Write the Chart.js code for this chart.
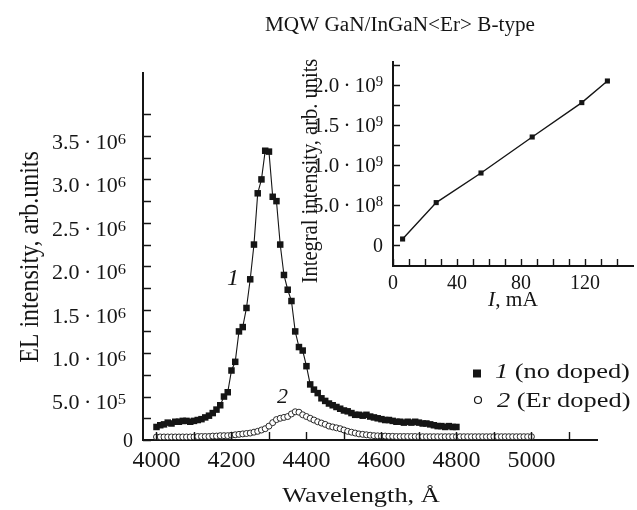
<!DOCTYPE html>
<html>
<head>
  <script src="https://cdn.jsdelivr.net/npm/chart.js"></script>
  <style>
    body { margin: 0; background: #fff; }
    #wrap { position: relative; width: 637px; height: 510px; }
    #wrap canvas { position: absolute; left: 0; top: 0; }
  </style>
</head>
<body>
  <div id="wrap">
    <canvas id="mainChart" width="637" height="510"></canvas>
    <canvas id="insetChart" width="637" height="510"></canvas>
  </div>

  <script>
    // EL spectra, wavelength in Angstrom, intensity in units of 1e6
    var wl1 = [4000, 4010, 4020, 4030, 4040, 4050, 4060, 4070, 4080, 4090,
               4100, 4110, 4120, 4130, 4140, 4150, 4160, 4170, 4180, 4190,
               4200, 4210, 4220, 4230, 4240, 4250, 4260, 4270, 4280, 4290,
               4300, 4310, 4320, 4330, 4340, 4350, 4360, 4370, 4380, 4390,
               4400, 4410, 4420, 4430, 4440, 4450, 4460, 4470, 4480, 4490,
               4500, 4510, 4520, 4530, 4540, 4550, 4560, 4570, 4580, 4590,
               4600, 4610, 4620, 4630, 4640, 4650, 4660, 4670, 4680, 4690,
               4700, 4710, 4720, 4730, 4740, 4750, 4760, 4770, 4780, 4790,
               4800];
    var noDoped = [0.15, 0.17, 0.18, 0.20, 0.19, 0.21, 0.21, 0.22, 0.22, 0.21,
                   0.22, 0.23, 0.24, 0.26, 0.28, 0.31, 0.35, 0.40, 0.50, 0.55,
                   0.80, 0.90, 1.25, 1.30, 1.52, 1.85, 2.25, 2.84, 3.00, 3.33,
                   3.32, 2.80, 2.75, 2.25, 1.90, 1.73, 1.60, 1.25, 1.07, 1.03,
                   0.85, 0.64, 0.58, 0.54, 0.48, 0.45, 0.42, 0.40, 0.38, 0.36,
                   0.34, 0.33, 0.31, 0.29, 0.29, 0.28, 0.29, 0.27, 0.26, 0.25,
                   0.24, 0.23, 0.23, 0.22, 0.21, 0.21, 0.20, 0.21, 0.20, 0.21,
                   0.20, 0.19, 0.19, 0.18, 0.17, 0.16, 0.16, 0.15, 0.16, 0.15,
                   0.15];

    var wl2 = [4000, 4010, 4020, 4030, 4040, 4050, 4060, 4070, 4080, 4090,
               4100, 4110, 4120, 4130, 4140, 4150, 4160, 4170, 4180, 4190,
               4200, 4210, 4220, 4230, 4240, 4250, 4260, 4270, 4280, 4290,
               4300, 4310, 4320, 4330, 4340, 4350, 4360, 4370, 4380, 4390,
               4400, 4410, 4420, 4430, 4440, 4450, 4460, 4470, 4480, 4490,
               4500, 4510, 4520, 4530, 4540, 4550, 4560, 4570, 4580, 4590,
               4600, 4610, 4620, 4630, 4640, 4650, 4660, 4670, 4680, 4690,
               4700, 4710, 4720, 4730, 4740, 4750, 4760, 4770, 4780, 4790,
               4800, 4810, 4820, 4830, 4840, 4850, 4860, 4870, 4880, 4890,
               4900, 4910, 4920, 4930, 4940, 4950, 4960, 4970, 4980, 4990,
               5000];
    var erDoped = [0.035, 0.035, 0.035, 0.035, 0.035, 0.035, 0.035, 0.035, 0.035, 0.035,
                   0.035, 0.04, 0.04, 0.04, 0.04, 0.045, 0.045, 0.05, 0.05, 0.05,
                   0.055, 0.06, 0.065, 0.07, 0.075, 0.08, 0.09, 0.10, 0.115, 0.13,
                   0.16, 0.20, 0.235, 0.25, 0.26, 0.27, 0.30, 0.325, 0.32, 0.29,
                   0.27, 0.25, 0.23, 0.21, 0.195, 0.18, 0.16, 0.15, 0.14, 0.13,
                   0.115, 0.10, 0.09, 0.08, 0.07, 0.065, 0.06, 0.055, 0.05, 0.048,
                   0.045, 0.045, 0.042, 0.042, 0.04, 0.04, 0.04, 0.04, 0.04, 0.04,
                   0.038, 0.038, 0.038, 0.038, 0.038, 0.038, 0.038, 0.038, 0.038, 0.038,
                   0.038, 0.038, 0.038, 0.038, 0.038, 0.038, 0.038, 0.038, 0.038, 0.038,
                   0.038, 0.038, 0.038, 0.038, 0.038, 0.038, 0.038, 0.038, 0.038, 0.038,
                   0.038];

    // inset: integral intensity (units of 1e9) vs current, mA
    var current = [6, 27, 55, 87, 118, 134];
    var integral = [0.075, 0.53, 0.90, 1.35, 1.78, 2.05];

    // ticks
    var mainXTicks = [4000, 4100, 4200, 4300, 4400, 4500, 4600, 4700, 4800, 4900, 5000, 5100];
    var mainXLabels = [4000, 4200, 4400, 4600, 4800, 5000];
    var mainYTicks = [0, 0.25, 0.5, 0.75, 1, 1.25, 1.5, 1.75, 2, 2.25, 2.5, 2.75, 3, 3.25, 3.5, 3.75];
    var mainYLabels = [0, 0.5, 1, 1.5, 2, 2.5, 3, 3.5];
    var insetXTicks = [0, 10, 20, 30, 40, 50, 60, 70, 80, 90, 100, 110, 120, 130, 140];
    var insetXLabels = [0, 40, 80, 120];
    var insetYTicks = [0, 0.25, 0.5, 0.75, 1, 1.25, 1.5, 1.75, 2, 2.25];
    var insetYLabels = [0, 0.5, 1, 1.5, 2];

    var SERIF = '"Liberation Serif", "DejaVu Serif", serif';
    var INK = '#151515';

    function pairs(xs, ys) {
      return xs.map(function (x, i) { return { x: x, y: ys[i] }; });
    }

    // parts: [text, italic, size, dy]; align left / center / right
    function textRun(ctx, parts, x, y, size, opt) {
      opt = opt || {};
      ctx.save();
      ctx.translate(x, y);
      ctx.scale(opt.sx || 1, 1);
      if (opt.rot) ctx.rotate(-Math.PI / 2);
      ctx.fillStyle = INK;
      ctx.textBaseline = 'alphabetic';
      function setFont(p) {
        ctx.font = (p[1] ? 'italic ' : '') + (p[2] || size) + 'px ' + SERIF;
      }
      var w = 0;
      parts.forEach(function (p) { setFont(p); w += ctx.measureText(p[0]).width; });
      var cx = opt.align === 'left' ? 0 : (opt.align === 'right' ? -w : -w / 2);
      parts.forEach(function (p) {
        setFont(p);
        ctx.fillText(p[0], cx, p[3] || 0);
        cx += ctx.measureText(p[0]).width;
      });
      ctx.restore();
    }

    // a·10^n tick labels on the y scale
    function sciLabels(chart, vals, n, o) {
      var ys = chart.scales.y, a = chart.chartArea;
      var sup = { 5: '5', 6: '6', 8: '8', 9: '9' };
      vals.forEach(function (v) {
        var y = ys.getPixelForValue(v);
        if (v === 0) {
          textRun(chart.ctx, [['0']], a.left - o.zeroGap, y + 0.34 * o.size, o.size, { align: 'right' });
          return;
        }
        var e = v < 1 ? n - 1 : n;
        var m = (v < 1 ? v * 10 : v).toFixed(1) + '\u2009\u00B7\u200910';
        textRun(chart.ctx, [[m], [sup[e], 0, o.supSize, o.supDy]],
          a.left - o.gap, y + o.shift + 0.34 * o.size, o.size, { align: 'right', sx: o.sx });
      });
    }

    // tick marks pointing into the plot
    function inwardTicks(chart, len) {
      var ctx = chart.ctx, a = chart.chartArea;
      var xs = chart.scales.x, ys = chart.scales.y;
      ctx.save();
      ctx.strokeStyle = INK;
      ctx.lineWidth = 1.4;
      ctx.beginPath();
      xs.ticks.forEach(function (t) {
        var p = Math.round(xs.getPixelForValue(t.value)) + 0.5;
        ctx.moveTo(p, a.bottom);
        ctx.lineTo(p, a.bottom - len);
      });
      ys.ticks.forEach(function (t) {
        var p = Math.round(ys.getPixelForValue(t.value)) + 0.5;
        ctx.moveTo(a.left, p);
        ctx.lineTo(a.left + len, p);
      });
      ctx.stroke();
      ctx.restore();
    }

    function axisOpts(min, max, tickVals, labelVals, fontSize, pad, fitKey, fitVal, showLabels) {
      return {
        type: 'linear',
        min: min,
        max: max,
        afterBuildTicks: function (s) {
          s.ticks = tickVals.map(function (v) { return { value: v }; });
        },
        afterFit: function (s) { s[fitKey] = fitVal; },
        grid: { display: true, drawOnChartArea: false, drawTicks: false },
        border: { display: true, color: INK, width: 2 },
        ticks: {
          display: showLabels,
          autoSkip: false,
          maxRotation: 0,
          padding: pad,
          color: INK,
          font: { family: SERIF, size: fontSize },
          callback: function (v) {
            return labelVals.indexOf(v) >= 0 ? String(v) : '';
          }
        }
      };
    }

    var mainDecor = {
      id: 'mainDecor',
      afterDraw: function (chart) {
        var ctx = chart.ctx;
        inwardTicks(chart, 8);
        sciLabels(chart, mainYLabels, 6, { size: 20, supSize: 15, supDy: -5, sx: 1.1, gap: 17, zeroGap: 10, shift: 6 });
        textRun(ctx, [['MQW GaN/InGaN<Er> B-type']], 400, 30.5, 20, { sx: 1.06 });
        textRun(ctx, [['Wavelength, \u00C5']], 361, 502, 22, { sx: 1.2 });
        textRun(ctx, [['EL intensity, arb.units']], 38, 257, 24, { sx: 1.15, rot: true });
        textRun(ctx, [['1', 1]], 227, 285, 24, { align: 'left' });
        textRun(ctx, [['2', 1]], 277, 403, 22, { align: 'left' });

        // legend
        ctx.save();
        ctx.fillStyle = INK;
        ctx.fillRect(473, 369.5, 8, 8);
        ctx.beginPath();
        ctx.arc(478, 400, 3.5, 0, 2 * Math.PI);
        ctx.strokeStyle = INK;
        ctx.lineWidth = 1.2;
        ctx.stroke();
        ctx.restore();
        textRun(ctx, [['1', 1], [' (no doped)']], 495, 378, 22, { align: 'left', sx: 1.2 });
        textRun(ctx, [['2', 1], [' (Er doped)']], 497, 407, 22, { align: 'left', sx: 1.2 });
      }
    };

    var insetDecor = {
      id: 'insetDecor',
      afterDraw: function (chart) {
        var ctx = chart.ctx;
        inwardTicks(chart, 7);
        sciLabels(chart, insetYLabels, 9, { size: 20, supSize: 14, supDy: -6, sx: 1.05, gap: 10, zeroGap: 10, shift: 0 });
        textRun(ctx, [['I', 1], [', mA']], 513, 306, 20, { sx: 1.07 });
        textRun(ctx, [['Integral intensity, arb. units']], 317, 171, 20.5, { sx: 1.1, rot: true });
      }
    };

    new Chart(document.getElementById('mainChart').getContext('2d'), {
      type: 'scatter',
      data: {
        datasets: [{
          label: '1 (no doped)',
          data: pairs(wl1, noDoped),
          showLine: true,
          borderColor: INK,
          borderWidth: 1.1,
          pointStyle: 'rect',
          pointRadius: 4.6,
          pointBackgroundColor: INK,
          pointBorderColor: INK,
          pointBorderWidth: 0
        }, {
          label: '2 (Er doped)',
          data: pairs(wl2, erDoped),
          showLine: false,
          pointStyle: 'circle',
          pointRadius: 3,
          pointBackgroundColor: '#fff',
          pointBorderColor: INK,
          pointBorderWidth: 0.9
        }]
      },
      options: {
        responsive: false,
        animation: false,
        layout: { padding: { left: 0, top: 73, right: 40, bottom: 0 } },
        plugins: { legend: { display: false }, tooltip: { enabled: false } },
        scales: {
          x: axisOpts(3964, 5175, mainXTicks, mainXLabels, 24, 6, 'height', 70, true),
          y: axisOpts(0, 4.225, mainYTicks, mainYLabels, 20, 10, 'width', 143, false)
        }
      },
      plugins: [mainDecor]
    });

    new Chart(document.getElementById('insetChart').getContext('2d'), {
      type: 'scatter',
      data: {
        datasets: [{
          label: 'Integral intensity',
          data: pairs(current, integral),
          showLine: true,
          borderColor: INK,
          borderWidth: 1.4,
          pointStyle: 'rect',
          pointRadius: 3.6,
          pointBackgroundColor: INK,
          pointBorderColor: INK,
          pointBorderWidth: 0
        }]
      },
      options: {
        responsive: false,
        animation: false,
        layout: { padding: { left: 290, top: 62, right: 0, bottom: 0 } },
        plugins: { legend: { display: false }, tooltip: { enabled: false } },
        scales: {
          x: axisOpts(0, 150, insetXTicks, insetXLabels, 20, 6, 'height', 244, true),
          y: axisOpts(-0.2625, 2.2875, insetYTicks, insetYLabels, 20, 10, 'width', 103, false)
        }
      },
      plugins: [insetDecor]
    });
  </script>
</body>
</html>
